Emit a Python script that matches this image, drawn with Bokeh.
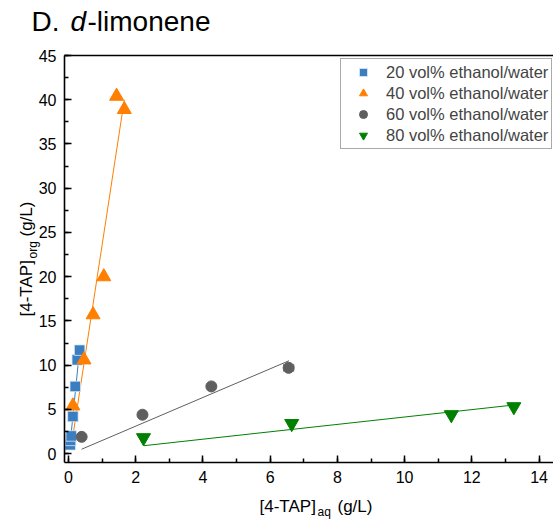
from math import pi
from bokeh.plotting import figure
from bokeh.models import (Range1d, LinearAxis, FixedTicker, Label, Legend, LegendItem,
                          ColumnDataSource, Whisker, TeeHead, SingleIntervalTicker, GridBox)
from bokeh.embed import file_html
from bokeh.resources import INLINE

# ---- data ----
x20 = [0.05, 0.06, 0.08, 0.13, 0.20, 0.26, 0.33]
y20 = [1.0, 1.5, 2.0, 4.2, 7.6, 10.6, 11.7]
x40 = [0.13, 0.46, 0.73, 1.05, 1.43, 1.66]
y40 = [5.4, 10.6, 15.7, 20.0, 40.4, 38.9]
x60 = [0.39, 2.20, 4.25, 6.55]
y60 = [1.9, 4.4, 7.6, 9.7]
xerr60 = [0.0, 0.0, 0.0, 0.15]
x80 = [2.23, 6.64, 11.39, 13.25]
y80 = [1.8, 3.4, 4.4, 5.3]

fit20_x = [0.05, 0.33]
fit20_y = [1.2, 11.8]
fit40_x = [0.13, 1.66]
fit40_y = [2.0, 40.0]
fit60_x = [0.39, 6.56]
fit60_y = [0.5, 10.5]
fit80_x = [2.24, 13.25]
fit80_y = [0.9, 5.5]

labels = ["20 vol% ethanol/water", "40 vol% ethanol/water",
          "60 vol% ethanol/water", "80 vol% ethanol/water"]

BLUE = "#3A7DC0"
ORANGE = "#FF7F00"
GRAY = "#5F5F5F"
GREEN = "#008000"
FONT = "Liberation Sans"

p = figure(width=553, height=521, output_backend="svg", toolbar_location=None,
           x_range=Range1d(-0.12, 14.43), y_range=Range1d(-1.0, 45.0),
           frame_width=489, frame_height=407,
           min_border_left=64, min_border_right=0, min_border_top=55, min_border_bottom=59)
p.outline_line_color = None
p.xgrid.visible = False
p.ygrid.visible = False
p.background_fill_color = "white"
p.border_fill_color = "white"

for ax in (p.xaxis[0], p.yaxis[0]):
    ax.axis_line_width = 1.6
    ax.axis_line_color = "black"
    ax.major_tick_line_width = 1.5
    ax.minor_tick_line_width = 1.5
    ax.major_tick_in = 7
    ax.major_tick_out = 0
    ax.minor_tick_in = 4
    ax.minor_tick_out = 0
    ax.major_label_text_font = FONT
    ax.major_label_text_font_size = "16px"
    ax.major_label_text_color = "black"
    ax.axis_label = None

p.xaxis[0].ticker = SingleIntervalTicker(interval=2, num_minor_ticks=2)
p.yaxis[0].ticker = SingleIntervalTicker(interval=5, num_minor_ticks=2)
p.xaxis[0].major_label_standoff = 8
p.yaxis[0].major_label_standoff = 8

top = LinearAxis(ticker=FixedTicker(ticks=[]), axis_line_width=1.6, axis_line_color="black",
                 major_tick_in=0, major_tick_out=0, minor_tick_in=0, minor_tick_out=0)
p.add_layout(top, "above")

# fit lines
p.line(fit20_x, fit20_y, line_color=BLUE, line_width=1)
p.line(fit40_x, fit40_y, line_color=ORANGE, line_width=1)
p.line(fit60_x, fit60_y, line_color=GRAY, line_width=1)
p.line(fit80_x, fit80_y, line_color=GREEN, line_width=1)

# error bar
src60 = ColumnDataSource(dict(x=x60, y=y60,
                              lo=[a - b for a, b in zip(x60, xerr60)],
                              hi=[a + b for a, b in zip(x60, xerr60)]))
p.add_layout(Whisker(source=src60, base="y", lower="lo", upper="hi", dimension="width",
                     line_color="#888888", line_width=1,
                     lower_head=TeeHead(size=8, line_color="#888888"),
                     upper_head=TeeHead(size=8, line_color="#888888")))

r20 = p.scatter(x20, y20, marker="square", size=10.5, fill_color=BLUE, line_color="#DDE8F4", line_width=0.8)
r40 = p.scatter(x40, y40, marker="triangle", size=14, fill_color=ORANGE, line_color=ORANGE)
r60 = p.scatter(x60, y60, marker="circle", size=11, fill_color=GRAY, line_color=GRAY)
r80 = p.scatter(x80, y80, marker="inverted_triangle", size=14, fill_color=GREEN, line_color=GREEN)

legend = Legend(items=[LegendItem(label=labels[0], renderers=[r20]),
                       LegendItem(label=labels[1], renderers=[r40]),
                       LegendItem(label=labels[2], renderers=[r60]),
                       LegendItem(label=labels[3], renderers=[r80])],
                location=(276, 313), padding=3, margin=0, spacing=1,
                label_height=20, glyph_height=20, glyph_width=38, label_standoff=4,
                label_text_font=FONT, label_text_font_size="16.5px",
                border_line_color="#555555", border_line_width=1,
                background_fill_color="white", background_fill_alpha=1)
p.add_layout(legend, "center")

# overlay figure for texts outside the frame (frame = whole canvas)
t = figure(width=553, height=521, output_backend="svg", toolbar_location=None,
           x_range=Range1d(0, 553), y_range=Range1d(0, 521),
           min_border=0, x_axis_type=None, y_axis_type=None)
t.outline_line_color = None
t.xgrid.visible = False
t.ygrid.visible = False
t.background_fill_color = None
t.border_fill_color = None
t.background_fill_alpha = 0
t.border_fill_alpha = 0
for fig in (p, t):
    try:
        fig.frame_align = False
    except Exception:
        pass


def lab(text, x, y, size, style="normal", angle=0.0):
    # x, y: screen pixels from the canvas bottom-left corner
    t.add_layout(Label(text=text, x=x, y=y, x_units="screen", y_units="screen",
                       text_font=FONT, text_font_size=size, text_font_style=style,
                       angle=angle, text_baseline="alphabetic", text_align="left",
                       text_color="black"))


lab("D.", 31, 500, "28px")
lab("d", 70, 500, "28px", "italic")
lab("-limonene", 87, 500, "28px")

lab("[4-TAP]", 259, 15, "17px")
lab("aq", 317, 10, "12px")
lab("(g/L)", 337, 15, "17px")

lab("[4-TAP]", 26, 205, "17px", angle=pi / 2)
lab("org", 32, 263, "12px", angle=pi / 2)
lab("(g/L)", 26, 285, "17px", angle=pi / 2)

layout = GridBox(children=[(p, 0, 0), (t, 0, 0)], width=553, height=521)

open("out.html", "w").write(file_html(layout, INLINE))
